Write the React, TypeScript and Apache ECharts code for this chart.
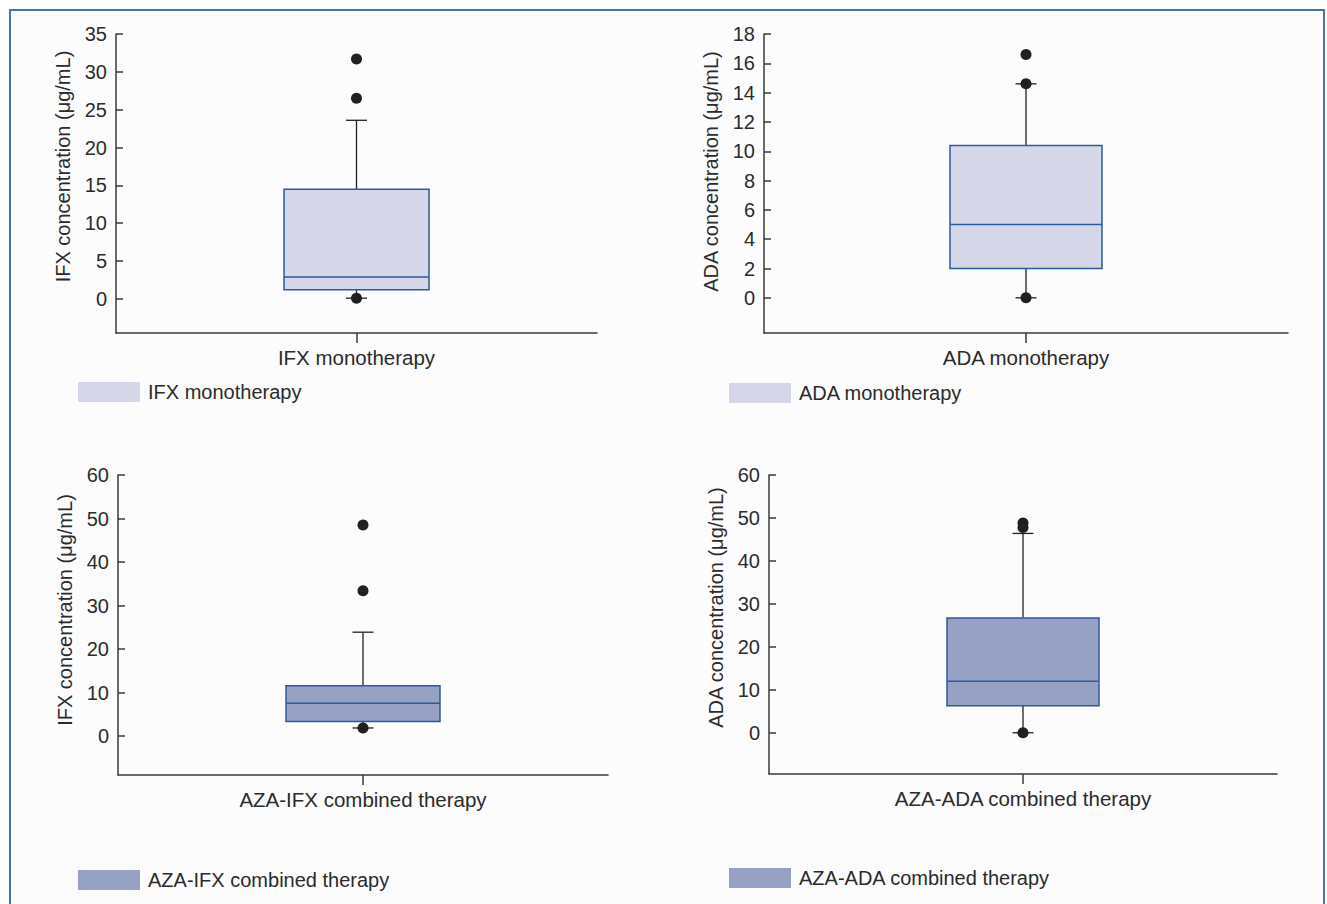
import React, { useEffect, useRef } from "react";
import * as echarts from "echarts";

// ---- data ----
const categories = ["IFX monotherapy", "ADA monotherapy", "AZA-IFX combined therapy", "AZA-ADA combined therapy"];
const yNames = ["IFX concentration (μg/mL)", "ADA concentration (μg/mL)", "IFX concentration (μg/mL)", "ADA concentration (μg/mL)"];
// [min, Q1, median, Q3, max]
const ifxMonoBox = [0.1, 1.2, 2.9, 14.5, 23.6];
const adaMonoBox = [0, 2.0, 5.0, 10.4, 14.6];
const azaIfxBox = [1.9, 3.4, 7.6, 11.6, 23.9];
const azaAdaBox = [0, 6.3, 12.0, 26.7, 46.4];
const ifxMonoPoints = [31.7, 26.5, 0.1];
const adaMonoPoints = [16.6, 14.6, 0];
const azaIfxPoints = [48.5, 33.4, 1.9];
const azaAdaPoints = [48.8, 47.8, 0];
const ticksIfxMono = [0, 5, 10, 15, 20, 25, 30, 35];
const ticksAdaMono = [0, 2, 4, 6, 8, 10, 12, 14, 16, 18];
const ticksAzaIfx = [0, 10, 20, 30, 40, 50, 60];
const ticksAzaAda = [0, 10, 20, 30, 40, 50, 60];
const yMins = [-4.5, -2.4, -8.9, -9.6];
const yMaxs = [35, 18, 60, 60];

const boxes = [ifxMonoBox, adaMonoBox, azaIfxBox, azaAdaBox];
const points = [ifxMonoPoints, adaMonoPoints, azaIfxPoints, azaAdaPoints];
const ticks = [ticksIfxMono, ticksAdaMono, ticksAzaIfx, ticksAzaAda];

// ---- styles ----
const FONT = "'Liberation Sans', Arial, sans-serif";
const TXT = "#2b2b2b";
const AX = "#3a3a3a";
const fills = ["#d5d7e9", "#d5d7e9", "#97a1c4", "#97a1c4"];
const BOX_STROKE = "#2c5a9e";
const grids = [
  { left: 116, top: 34, width: 481, height: 299 },
  { left: 764, top: 34, width: 524, height: 299 },
  { left: 118, top: 475, width: 490, height: 300 },
  { left: 769, top: 475, width: 508, height: 299 },
];
const boxWidths = [145, 152, 154, 152];
const nameShift = [34, 24, 30, 34];
const legendPos = [
  { left: 78, top: 382 },
  { left: 729, top: 383 },
  { left: 78, top: 870 },
  { left: 729, top: 868 },
];

export default function App() {
  const ref = useRef<HTMLDivElement>(null);
  useEffect(() => {
    if (!ref.current) return;
    const chart = echarts.init(ref.current, null, { renderer: "svg" });
    const series: any[] = [];
    categories.forEach((cat, i) => {
      const bw = boxWidths[i];
      series.push({
        name: cat,
        type: "custom",
        xAxisIndex: i,
        yAxisIndex: i,
        itemStyle: { color: fills[i] },
        data: [[0, ...boxes[i]]],
        encode: { x: 0, y: [1, 2, 3, 4, 5] },
        renderItem: (params: any, api: any) => {
          const x = api.value(0);
          const v = [1, 2, 3, 4, 5].map((k) => api.value(k));
          const p = v.map((val) => api.coord([x, val]));
          const cx = p[0][0];
          const hw = bw / 2;
          const cap = 10.5;
          const lineStyle = { stroke: "#231f20", lineWidth: 1.3 };
          return {
            type: "group",
            children: [
              { type: "line", shape: { x1: cx, y1: p[3][1], x2: cx, y2: p[4][1] }, style: lineStyle },
              { type: "line", shape: { x1: cx - cap, y1: p[4][1], x2: cx + cap, y2: p[4][1] }, style: lineStyle },
              { type: "line", shape: { x1: cx, y1: p[1][1], x2: cx, y2: p[0][1] }, style: lineStyle },
              { type: "line", shape: { x1: cx - cap, y1: p[0][1], x2: cx + cap, y2: p[0][1] }, style: lineStyle },
              {
                type: "rect",
                shape: { x: cx - hw, y: p[3][1], width: bw, height: p[1][1] - p[3][1] },
                style: { fill: fills[i], stroke: BOX_STROKE, lineWidth: 1.5 },
              },
              { type: "line", shape: { x1: cx - hw, y1: p[2][1], x2: cx + hw, y2: p[2][1] }, style: { stroke: BOX_STROKE, lineWidth: 1.5 } },
            ],
          };
        },
      });
      series.push({
        name: cat + " points",
        type: "scatter",
        xAxisIndex: i,
        yAxisIndex: i,
        symbolSize: 11,
        itemStyle: { color: "#231f20", opacity: 1 },
        z: 5,
        data: points[i].map((v) => [0, v]),
      });
    });

    const option: any = {
      animation: false,
      backgroundColor: "#ffffff",
      textStyle: { fontFamily: FONT },
      graphic: [
        {
          type: "rect",
          z: -10,
          shape: { x: 10, y: 10, width: 1314, height: 1000 },
          style: { fill: "#fcfcfc", stroke: "#4a72ab", lineWidth: 2 },
        },
      ],
      grid: grids,
      xAxis: categories.map((c, i) => ({
        type: "category",
        gridIndex: i,
        data: [c],
        boundaryGap: true,
        axisLine: { onZero: false, lineStyle: { color: AX, width: 1.5 } },
        axisTick: { show: true, alignWithLabel: true, length: 10, lineStyle: { color: AX, width: 1.5 } },
        axisLabel: { color: TXT, fontSize: 20.5, fontFamily: FONT, margin: 14 },
        splitLine: { show: false },
      })),
      yAxis: categories.map((c, i) => ({
        type: "value",
        gridIndex: i,
        min: yMins[i],
        max: yMaxs[i],
        name: yNames[i],
        nameLocation: "middle",
        nameRotate: 90,
        nameGap: 43,
        nameTextStyle: { color: TXT, fontSize: 20, fontFamily: FONT, padding: [0, 0, 0, nameShift[i]] },
        axisLine: { show: true, onZero: false, lineStyle: { color: AX, width: 1.5 } },
        axisTick: { show: true, inside: true, length: 7, customValues: ticks[i], lineStyle: { color: AX, width: 1.5 } },
        axisLabel: { color: TXT, fontSize: 20, fontFamily: FONT, margin: 9, customValues: ticks[i] },
        splitLine: { show: false },
      })),
      legend: categories.map((c, i) => ({
        ...legendPos[i],
        orient: "horizontal",
        selectedMode: false,
        itemWidth: 62,
        itemHeight: 20,
        padding: 0,
        textStyle: { color: TXT, fontSize: 20, fontFamily: FONT, padding: [0, 0, 0, 3] },
        data: [{ name: c, icon: "rect", itemStyle: { color: fills[i], borderWidth: 0 } }],
      })),
      series,
    };
    chart.setOption(option);
    return () => chart.dispose();
  }, []);
  return <div ref={ref} style={{ position: "absolute", left: 0, top: 0, width: 1327, height: 904 }} />;
}
